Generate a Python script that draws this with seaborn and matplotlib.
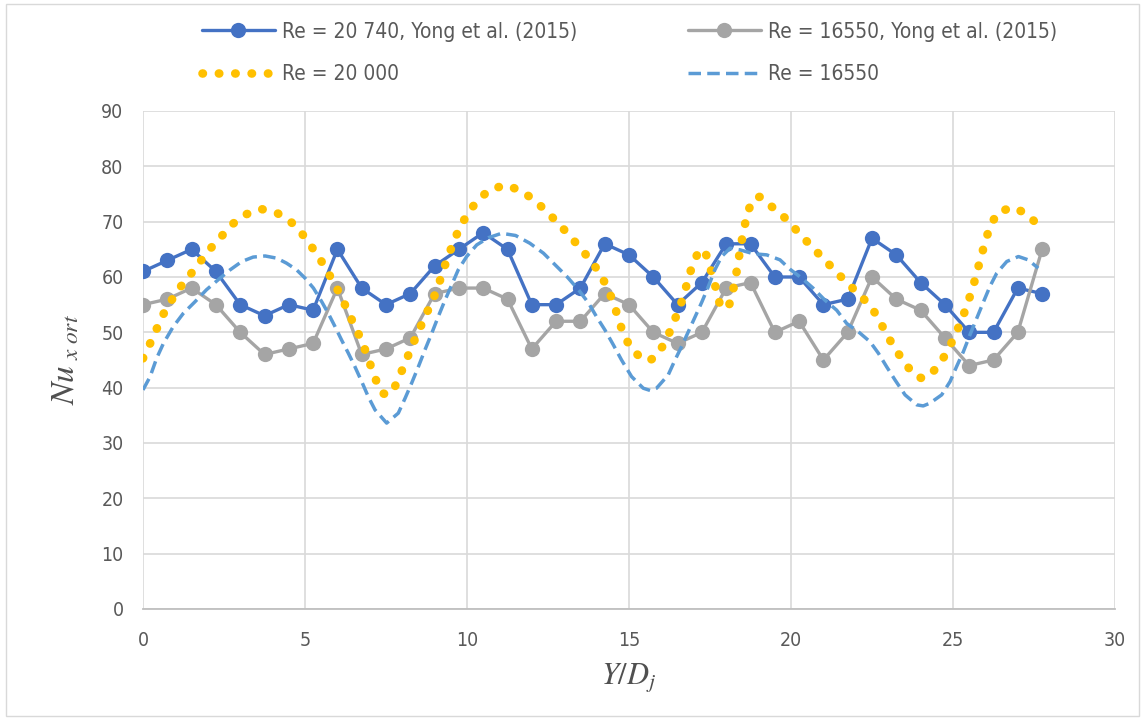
import matplotlib
matplotlib.use("Agg")
import matplotlib.pyplot as plt
import seaborn as sns
import pandas as pd
from matplotlib.patches import Rectangle

# ---------------- data ----------------
x_exp = [0.0, 0.75, 1.5, 2.25, 3.0, 3.75, 4.5, 5.25, 6.0, 6.75, 7.5, 8.25, 9.0, 9.75,
         10.5, 11.25, 12.0, 12.75, 13.5, 14.25, 15.0, 15.75, 16.5, 17.25, 18.0, 18.75,
         19.5, 20.25, 21.0, 21.75, 22.5, 23.25, 24.0, 24.75, 25.5, 26.25, 27.0, 27.75]
nu_yong_20740 = [61, 63, 65, 61, 55, 53, 55, 54, 65, 58, 55, 57, 62, 65,
                 68, 65, 55, 55, 58, 66, 64, 60, 55, 59, 66, 66,
                 60, 60, 55, 56, 67, 64, 59, 55, 50, 50, 58, 57]
nu_yong_16550 = [55, 56, 58, 55, 50, 46, 47, 48, 58, 46, 47, 49, 57, 58,
                 58, 56, 47, 52, 52, 57, 55, 50, 48, 50, 58, 59,
                 50, 52, 45, 50, 60, 56, 54, 49, 44, 45, 50, 65]

x_20000 = [0.0, 0.22, 0.42, 0.63, 0.88, 1.17, 1.47, 1.78, 2.09, 2.43, 2.77, 3.17, 3.64,
           4.13, 4.56, 4.9, 5.2, 5.48, 5.74, 5.98, 6.2, 6.41, 6.63, 6.82, 6.99, 7.16,
           7.35, 7.53, 7.71, 7.91, 8.11, 8.29, 8.5, 8.7, 8.91, 9.1, 9.25, 9.42, 9.6,
           9.8, 10.06, 10.35, 10.73, 11.22, 11.69, 12.1, 12.46, 12.82, 13.16, 13.49,
           13.8, 14.1, 14.33, 14.52, 14.67, 14.82, 15.06, 15.42, 15.63, 15.85, 16.11,
           16.32, 16.5, 16.68, 16.81, 16.95, 17.16, 17.28, 17.43, 17.55, 17.69, 17.81,
           17.95, 18.07, 18.2, 18.3, 18.38, 18.46, 18.56, 18.65, 18.87, 19.05, 19.3,
           19.71, 20.05, 20.38, 20.72, 21.07, 21.43, 21.79, 22.15, 22.49, 22.75, 22.98,
           23.24, 23.52, 23.83, 24.05, 24.27, 24.6, 24.86, 25.06, 25.27, 25.44, 25.6,
           25.73, 25.86, 25.99, 26.14, 26.38, 26.84, 27.29, 27.65]
nu_20000 = [45.3, 48.0, 50.6, 53.3, 55.8, 58.3, 60.5, 62.9, 65.2, 67.4, 69.6, 71.3, 72.3,
            71.6, 70.0, 67.9, 65.5, 63.1, 60.5, 58.0, 55.4, 52.7, 50.0, 47.4, 44.6, 41.8,
            39.1, 38.7, 39.3, 42.0, 44.7, 47.4, 50.1, 52.8, 55.4, 58.1, 61.0, 63.7, 66.6,
            69.2, 71.8, 74.0, 75.9, 76.6, 75.5, 73.8, 71.8, 69.7, 67.5, 65.3,
            63.1, 60.7, 58.1, 55.4, 52.5, 49.8, 47.1, 45.1, 44.9, 45.7, 48.2,
            50.9, 53.6, 56.4, 59.3, 62.0, 64.8, 65.0, 63.5, 60.7, 57.8, 54.9,
            54.3, 54.5, 57.2, 60.2, 63.1, 66.0, 68.9, 71.7, 74.3, 74.5, 73.2,
            71.3, 69.2, 67.1, 65.0, 62.9, 60.7, 58.6, 56.6, 54.5, 51.9, 49.3,
            46.8, 44.4, 42.1, 41.7, 42.1, 44.4, 46.9, 49.5, 52.2, 55.1, 57.8,
            60.7, 63.5, 66.3, 69.1, 71.7, 72.6, 71.4, 69.2]

x_16550 = [0.0, 0.22, 0.42, 0.63, 0.93, 1.24, 1.6, 1.96, 2.32, 2.69, 3.05, 3.4, 3.77,
           4.13, 4.43, 4.74, 5.0, 5.26, 5.52, 5.72, 5.93, 6.13, 6.34, 6.54, 6.75, 6.95,
           7.16, 7.52, 7.88, 8.09, 8.29, 8.5, 8.7, 8.91, 9.11, 9.32, 9.53, 9.73, 9.99,
           10.3, 10.66, 11.07, 11.5, 11.94, 12.36, 12.72, 13.08, 13.44, 13.75, 14.0,
           14.26, 14.52, 14.77, 15.08, 15.44, 15.65, 15.85, 16.21, 16.42, 16.62, 16.83,
           17.04, 17.25, 17.45, 17.65, 17.86, 18.12, 18.43, 18.84, 19.25, 19.66, 19.97,
           20.33, 20.68, 21.05, 21.41, 21.72, 22.08, 22.44, 22.7, 22.95, 23.21, 23.52,
           23.88, 24.08, 24.29, 24.65, 24.91, 25.11, 25.32, 25.52, 25.73, 25.94, 26.14,
           26.35, 26.66, 27.02, 27.32, 27.63]
nu_16550 = [39.6, 42.0, 45.3, 48.0, 51.0, 53.4, 55.5, 57.7, 59.5, 61.3, 62.8, 63.6, 63.8,
            63.4, 62.5, 61.3, 59.8, 58.0, 55.5, 53.4, 51.0, 48.6, 46.2, 43.8, 41.1, 38.4,
            36.0, 33.6, 35.4, 38.1, 40.8, 43.8, 46.8, 49.8, 52.8, 55.8, 58.6, 61.3, 63.7,
            65.8, 67.1, 67.9, 67.5, 66.1, 64.3, 62.2, 60.1, 57.7, 55.3, 52.8,
            50.4, 47.7, 45.0, 42.0, 39.9, 39.5, 39.9, 42.3, 45.0, 47.4, 50.1,
            52.8, 55.5, 58.3, 61.3, 63.7, 65.2, 64.9, 64.2, 64.0, 63.1, 61.4,
            59.8, 58.0, 55.8, 54.0, 51.6, 50.1, 48.3, 46.2, 43.8, 41.4, 38.7,
            36.9, 36.7, 37.2, 38.7, 41.1, 43.8, 46.5, 49.5, 52.5, 55.5, 58.3,
            60.7, 62.8, 63.7, 63.1, 61.6]

labels = ["Re = 20 740, Yong et al. (2015)", "Re = 16550, Yong et al. (2015)",
          "Re = 20 000", "Re = 16550"]
x_ticks = [0, 5, 10, 15, 20, 25, 30]
y_ticks = [0, 10, 20, 30, 40, 50, 60, 70, 80, 90]

# ---------------- style ----------------
sns.set_theme(style="white")
plt.rcParams['font.family'] = ['DejaVu Sans']
plt.rcParams['font.stretch'] = 'condensed'
plt.rcParams['mathtext.fontset'] = 'stix'

c_blue = "#4472C4"
c_gray = "#A5A5A5"
c_orange = "#FFC000"
c_dash = "#5B9BD5"
txt = "#595959"

fig = plt.figure(figsize=(11.45, 7.2), dpi=100)
ax = fig.add_axes([143 / 1145, 1 - 609 / 720, (1115 - 143) / 1145, (609 - 111) / 720])

df_a = pd.DataFrame({"x": x_exp, "y": nu_yong_20740})
df_b = pd.DataFrame({"x": x_exp, "y": nu_yong_16550})
df_c = pd.DataFrame({"x": x_20000, "y": nu_20000})
df_d = pd.DataFrame({"x": x_16550, "y": nu_16550})

sns.lineplot(data=df_a, x="x", y="y", ax=ax, color=c_blue, lw=2.4, marker="o",
             markersize=11, markeredgewidth=0, sort=False, estimator=None, label=labels[0], zorder=3)
sns.lineplot(data=df_b, x="x", y="y", ax=ax, color=c_gray, lw=2.4, marker="o",
             markersize=11, markeredgewidth=0, sort=False, estimator=None, label=labels[1], zorder=4)
sns.lineplot(data=df_c, x="x", y="y", ax=ax, color=c_orange, lw=6.2,
             linestyle=(0, (0.05, 1.85)), dash_capstyle="round", sort=False,
             estimator=None, label=labels[2], zorder=5)
sns.lineplot(data=df_d, x="x", y="y", ax=ax, color=c_dash, lw=2.5,
             linestyle=(0, (3.6, 1.8)), sort=False, estimator=None, label=labels[3], zorder=6)

ax.set_xlim(0, 30)
ax.set_ylim(0, 90)
ax.set_xticks(x_ticks)
ax.set_yticks(y_ticks)
ax.grid(True, color="#D9D9D9", lw=1.2)
ax.set_axisbelow(True)
for s in ["top", "right", "left"]:
    ax.spines[s].set_visible(False)
ax.spines["bottom"].set_color("#BFBFBF")
ax.spines["bottom"].set_linewidth(1.3)
ax.tick_params(axis="both", length=0, labelsize=14, colors=txt)
ax.tick_params(axis="y", pad=14)
ax.tick_params(axis="x", pad=16)

ax.set_xlabel(r"$Y/D_j$", fontsize=22, color="#505050", labelpad=8)
ax.set_ylabel(r"$Nu_{\ x\ ort}$", fontsize=24, color="#505050", labelpad=14)

# legend: row-major order as in reference
h, l = ax.get_legend_handles_labels()
ax.get_legend().remove()
order = [0, 2, 1, 3]
fig.legend([h[i] for i in order], [l[i] for i in order], ncol=2,
           loc="upper left", bbox_to_anchor=(183 / 1145, 1 - 3 / 720),
           frameon=False, fontsize=15, labelcolor=txt, handlelength=3.5,
           handletextpad=0.35, columnspacing=5.3, labelspacing=1.08)

fig.patches.append(Rectangle((0.005, 0.005), 0.99, 0.99, transform=fig.transFigure,
                             fill=False, edgecolor="#D9D9D9", lw=1))

fig.savefig("out.png", dpi=100)
